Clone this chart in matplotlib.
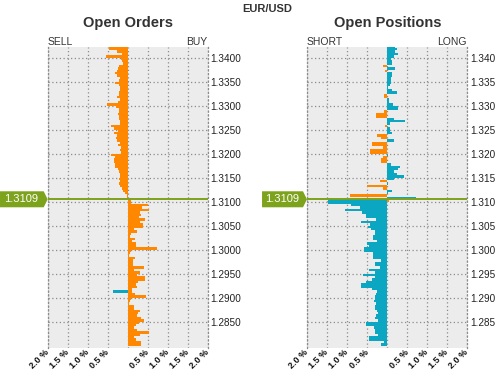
import numpy as np
import matplotlib.pyplot as plt
from matplotlib.patches import Polygon
from matplotlib import transforms

plt.rcParams['font.family'] = ['Liberation Sans', 'DejaVu Sans']

pair = 'EUR/USD'
current_price = 1.3109
bucket = 0.0005

# price buckets, top to bottom
levels_above = np.round(np.arange(1.3420, 1.31049, -bucket), 4)   # 64 buckets
levels_below = np.round(np.arange(1.3100, 1.27999, -bucket), 4)   # 61 buckets

# Open Orders (%), sell orders above price
orders_sell_above = [0.47, 0.47, 0.26, 0.15, 0.55, 0.17, 0.15, 0.13, 0.22, 0.25,
                     0.28, 0.32, 0.26, 0.19, 0.22, 0.32, 0.22, 0.19, 0.19, 0.22,
                     0.21, 0.28, 0.19, 0.25, 0.52, 0.29, 0.23, 0.21, 0.24, 0.21,
                     0.23, 0.19, 0.19, 0.42, 0.34, 0.25, 0.34, 0.28, 0.29, 0.28,
                     0.19, 0.24, 0.18, 0.19, 0.17, 0.42, 0.31, 0.34, 0.35, 0.33,
                     0.31, 0.24, 0.21, 0.19, 0.19, 0.23, 0.19, 0.23, 0.19, 0.14,
                     0.11, 0.06, 0.03, 0.02]
# buy orders below price
orders_buy_below = [0.08, 0.08, 0.50, 0.35, 0.53, 0.30, 0.33, 0.28, 0.43, 0.31,
                    0.38, 0.38, 0.16, 0.23, 0.08, 0.05, 0.18, 0.11, 0.21, 0.21,
                    0.73, 0.08, 0.05, 0.03, 0.18, 0.13, 0.13, 0.13, 0.41, 0.16,
                    0.31, 0.22, 0.43, 0.43, 0.26, 0.20, 0.23, 0.11, 0.11, 0.18,
                    0.46, 0.08, 0.06, 0.03, 0.16, 0.16, 0.31, 0.26, 0.23, 0.33,
                    0.41, 0.28, 0.21, 0.16, 0.23, 0.53, 0.31, 0.16, 0.21, 0.33,
                    0.33]
orders_sell_below_levels = [1.2910]
orders_sell_below = [0.37]

# Open Positions (%), above price: + long, - short
positions_above = [0.20, 0.25, 0.20, 0.27, 0.17, 0.11, 0.13, 0.13, -0.10, 0.19,
                   -0.06, 0.12, 0.13, 0.09, 0.11, 0.11, 0.07, 0.03, 0.13, 0.26,
                   -0.08, -0.08, 0.04, 0.04, 0.15, 0.28, 0.28, -0.08, -0.28, -0.28,
                   0.17, 0.46, 0.08, -0.06, 0.07, 0.07, 0.13, -0.25, -0.15, 0.17,
                   -0.37, -0.37, -0.10, -0.43, -0.43, 0.03, -0.10, -0.15, -0.15, 0.11,
                   0.33, 0.28, 0.17, 0.26, 0.43, 0.17, -0.18, 0.03, -0.50, -0.11,
                   0.13, 0.03, -0.93, 0.72]
# short positions below price
positions_short_below = [1.48, 1.48, 0.91, 0.68, 1.06, 0.63, 0.53, 0.53, 0.27, 0.66,
                         0.43, 0.48, 0.41, 0.31, 0.31, 0.36, 0.36, 0.26, 0.51, 0.45,
                         0.58, 0.58, 0.36, 0.36, 0.36, 0.16, 0.31, 0.31, 0.18, 0.46,
                         0.31, 0.61, 0.31, 0.38, 0.53, 0.66, 0.66, 0.38, 0.26, 0.28,
                         0.31, 0.31, 0.33, 0.28, 0.31, 0.31, 0.26, 0.23, 0.28, 0.31,
                         0.23, 0.53, 0.53, 0.33, 0.31, 0.31, 0.22, 0.46, 0.46, 0.08,
                         0.16]
positions_long_below_levels = [1.3100]
positions_long_below = [0.06]

ORANGE = '#ff8800'
TEAL = '#0aa6c2'
GREEN = '#7da21b'
BG = '#ececec'
TXT = '#333333'


def side_bars(ax, levels, values, side, color):
    levels = np.asarray(levels)
    values = np.asarray(values, dtype=float)
    keep = values > 0
    ax.barh(levels[keep], side * values[keep], height=bucket, align='edge',
            color=color, linewidth=0, zorder=2)


def setup_panel(ax, title, left_lbl, right_lbl, tag_center, title_x):
    ax.set_facecolor(BG)
    ax.set_xlim(-2, 2)
    ax.set_ylim(1.27958, 1.34229)
    xt = np.arange(-2, 2.01, 0.5)
    ax.set_xticks(xt)
    ax.set_xticklabels(['' if abs(v) < 1e-9 else f'{abs(v):.1f} %' for v in xt])
    plt.setp(ax.get_xticklabels(), rotation=45, ha='right', va='center',
             rotation_mode='anchor', fontsize=6.5, fontweight='bold', color='#111111')
    yt = np.arange(1.2850, 1.34001, 0.005)
    ax.set_yticks(yt)
    ax.set_yticklabels([f'{v:.4f}' for v in yt])
    ax.yaxis.tick_right()
    ax.tick_params(axis='y', length=0, pad=2, labelsize=7.2, labelcolor='#222222')
    ax.tick_params(axis='x', length=0, pad=2)
    ax.grid(True, color='#8c8c8c', linestyle=(0, (1, 2)), linewidth=0.9, zorder=1)
    ax.set_axisbelow(True)
    for s in ['top', 'bottom']:
        ax.spines[s].set_visible(False)
    for s in ['left', 'right']:
        ax.spines[s].set_color('#8c8c8c')
        ax.spines[s].set_linestyle((0, (1, 2)))
        ax.spines[s].set_linewidth(0.9)

    ax.text(0, 1.017, left_lbl, transform=ax.transAxes, fontsize=7.5, color=TXT,
            ha='left', va='center')
    ax.text(1, 1.017, right_lbl, transform=ax.transAxes, fontsize=7.5, color=TXT,
            ha='right', va='center')
    fig.text(title_x, 0.9365, title, fontsize=10.5, fontweight='bold', color=TXT,
             ha='center', va='center')

    # current price line + tag
    line_level = np.floor(current_price / bucket) * bucket
    ax.axhline(line_level, color=GREEN, linewidth=1.4, zorder=3)
    tr = transforms.blended_transform_factory(ax.transAxes, ax.transData)
    hh = 8 / 4800
    left_x = -tag_center
    verts = [(left_x, line_level - hh), (-0.025, line_level - hh), (0, line_level),
             (-0.025, line_level + hh), (left_x, line_level + hh)]
    ax.add_patch(Polygon(verts, closed=True, transform=tr, facecolor=GREEN,
                         edgecolor='none', clip_on=False, zorder=4))
    ax.text(left_x / 2 - 0.015, line_level, f'{current_price:.4f}', transform=tr,
            color='white', fontsize=8, ha='center', va='center', zorder=5)


fig = plt.figure(figsize=(4.95, 3.7), dpi=100)
ax1 = fig.add_axes([47.7 / 495, 22.3 / 370, 160 / 495, 301 / 370])
ax2 = fig.add_axes([307 / 495, 22.3 / 370, 160 / 495, 301 / 370])

# Open Orders: above price sell(left, orange); below price buy(right, orange), sell(left, teal)
side_bars(ax1, levels_above, orders_sell_above, -1, ORANGE)
side_bars(ax1, levels_below, orders_buy_below, 1, ORANGE)
side_bars(ax1, orders_sell_below_levels, orders_sell_below, -1, TEAL)
setup_panel(ax1, 'Open Orders', 'SELL', 'BUY', 0.298, 127.7 / 495)

# Open Positions
pa = np.asarray(positions_above)
side_bars(ax2, levels_above, np.clip(pa, 0, None), 1, TEAL)
side_bars(ax2, levels_above, np.clip(-pa, 0, None), -1, ORANGE)
side_bars(ax2, levels_below, positions_short_below, -1, TEAL)
side_bars(ax2, positions_long_below_levels, positions_long_below, 1, ORANGE)
setup_panel(ax2, 'Open Positions', 'SHORT', 'LONG', 0.281, 387.3 / 495)

fig.text(267 / 495, 1 - 9 / 370, pair, fontsize=8, fontweight='bold', color=TXT,
         ha='center', va='center')

fig.savefig('out.png', dpi=100)
